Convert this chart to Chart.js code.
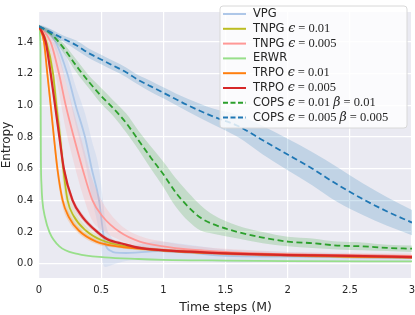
<!DOCTYPE html>
<html>
<head>
<meta charset="utf-8">
<script src="https://cdn.jsdelivr.net/npm/chart.js@4.4.1/dist/chart.umd.min.js"></script>
<style>
  html, body { margin: 0; padding: 0; background: #fff; }
</style>
</head>
<body>
<canvas id="chart" width="415" height="315"></canvas>
<script>
// tick labels
const xTicks = [0, 0.5, 1, 1.5, 2, 2.5, 3];
const yTicks = [0, 0.2, 0.4, 0.6, 0.8, 1.0, 1.2, 1.4];

// legend text (name + math part)
const legendNames = ['VPG', 'TNPG', 'TNPG', 'ERWR', 'TRPO', 'TRPO', 'COPS', 'COPS'];
const legendMath = ['', 'ϵ = 0.01', 'ϵ = 0.005', '', 'ϵ = 0.01', 'ϵ = 0.005',
                    'ϵ = 0.01 β = 0.01', 'ϵ = 0.005 β = 0.005'];

// VPG
const vpgX  = [0, 0.05, 0.134, 0.228, 0.295, 0.37, 0.424, 0.483, 0.515, 0.535, 0.58, 0.615, 0.7, 0.8, 0.95, 1.2, 1.5, 2.0, 2.5, 3.0];
const vpgY  = [1.50, 1.48, 1.40, 1.20, 1.00, 0.80, 0.60, 0.40, 0.20, 0.12, 0.08, 0.07, 0.068, 0.072, 0.08, 0.07, 0.05, 0.045, 0.04, 0.035];
const vpgSd = [0.01, 0.02, 0.05, 0.09, 0.12, 0.15, 0.18, 0.2, 0.2, 0.14, 0.09, 0.07, 0.05, 0.05, 0.06, 0.05, 0.04, 0.03, 0.025, 0.02];

// TNPG eps 0.01
const tnpg1X  = [0, 0.06, 0.113, 0.14, 0.17, 0.195, 0.23, 0.28, 0.376, 0.5, 0.7, 1.0, 1.5, 2.0, 2.5, 3.0];
const tnpg1Y  = [1.50, 1.40, 1.20, 1.00, 0.80, 0.60, 0.40, 0.30, 0.21, 0.15, 0.11, 0.085, 0.065, 0.055, 0.045, 0.04];
const tnpg1Sd = [0.01, 0.04, 0.07, 0.09, 0.1, 0.1, 0.08, 0.05, 0.03, 0.02, 0.015, 0.01, 0.01, 0.01, 0.01, 0.01];

// TNPG eps 0.005
const tnpg2X  = [0, 0.094, 0.161, 0.215, 0.28, 0.35, 0.43, 0.51, 0.65, 0.81, 1.0, 1.2, 1.4, 1.6, 2.0, 2.5, 3.0];
const tnpg2Y  = [1.50, 1.40, 1.20, 1.00, 0.80, 0.60, 0.40, 0.30, 0.20, 0.14, 0.11, 0.09, 0.08, 0.07, 0.06, 0.055, 0.05];
const tnpg2Sd = [0.01, 0.06, 0.12, 0.15, 0.16, 0.16, 0.13, 0.09, 0.05, 0.035, 0.03, 0.025, 0.02, 0.02, 0.015, 0.015, 0.015];

// ERWR
const erwrX  = [0, 0.012, 0.015, 0.02, 0.027, 0.048, 0.084, 0.164, 0.31, 0.53, 0.8, 1.0, 1.5, 2.0, 3.0];
const erwrY  = [1.50, 1.35, 0.70, 0.50, 0.40, 0.295, 0.20, 0.11, 0.062, 0.04, 0.03, 0.025, 0.02, 0.017, 0.015];
const erwrSd = [0, 0, 0, 0, 0, 0, 0, 0, 0, 0, 0, 0, 0, 0, 0];

// TRPO eps 0.01
const trpo1X  = [0, 0.04, 0.067, 0.094, 0.12, 0.148, 0.19, 0.24, 0.32, 0.46, 0.63, 1.0, 1.5, 2.0, 2.5, 3.0];
const trpo1Y  = [1.50, 1.40, 1.20, 1.00, 0.80, 0.60, 0.40, 0.295, 0.21, 0.14, 0.11, 0.085, 0.065, 0.055, 0.045, 0.04];
const trpo1Sd = [0.01, 0.03, 0.05, 0.05, 0.05, 0.05, 0.04, 0.03, 0.02, 0.015, 0.01, 0.01, 0.01, 0.01, 0.01, 0.01];

// TRPO eps 0.005
const trpo2X  = [0, 0.054, 0.094, 0.129, 0.164, 0.20, 0.27, 0.35, 0.47, 0.55, 0.68, 0.81, 1.21, 1.62, 2.0, 2.5, 3.0];
const trpo2Y  = [1.50, 1.40, 1.20, 1.00, 0.80, 0.60, 0.40, 0.295, 0.20, 0.155, 0.125, 0.10, 0.076, 0.062, 0.055, 0.05, 0.042];
const trpo2Sd = [0.01, 0.02, 0.03, 0.03, 0.03, 0.03, 0.025, 0.02, 0.015, 0.012, 0.01, 0.01, 0.01, 0.01, 0.01, 0.01, 0.01];

// COPS eps 0.01 beta 0.01
const cops1X  = [0, 0.1, 0.2, 0.3, 0.4, 0.5, 0.6, 0.7, 0.8, 0.9, 1.0, 1.1, 1.2, 1.3, 1.4, 1.6, 1.8, 2.0, 2.2, 2.4, 2.6, 2.8, 3.0];
const cops1Y  = [1.50, 1.45, 1.36, 1.25, 1.15, 1.06, 0.98, 0.89, 0.78, 0.67, 0.565, 0.45, 0.36, 0.29, 0.25, 0.20, 0.165, 0.14, 0.13, 0.115, 0.11, 0.10, 0.095];
const cops1Sd = [0.01, 0.02, 0.03, 0.04, 0.04, 0.05, 0.05, 0.06, 0.06, 0.07, 0.08, 0.09, 0.09, 0.08, 0.06, 0.04, 0.035, 0.03, 0.03, 0.025, 0.025, 0.02, 0.02];

// COPS eps 0.005 beta 0.005
const cops2X  = [0, 0.1, 0.2, 0.3, 0.4, 0.5, 0.6, 0.7, 0.8, 0.9, 1.0, 1.2, 1.4, 1.6, 1.8, 2.0, 2.2, 2.4, 2.6, 2.8, 3.0];
const cops2Y  = [1.50, 1.46, 1.42, 1.38, 1.33, 1.29, 1.25, 1.21, 1.16, 1.12, 1.08, 1.00, 0.93, 0.87, 0.78, 0.69, 0.60, 0.50, 0.41, 0.33, 0.26];
const cops2Sd = [0.01, 0.02, 0.02, 0.03, 0.03, 0.03, 0.03, 0.03, 0.03, 0.035, 0.035, 0.04, 0.05, 0.07, 0.09, 0.10, 0.105, 0.11, 0.10, 0.09, 0.08];

const series = [
  { x: vpgX,   y: vpgY,   sd: vpgSd,   color: '#aec7e8', band: 'rgba(174,199,232,0.28)', dash: [] },
  { x: tnpg1X, y: tnpg1Y, sd: tnpg1Sd, color: '#bcbd22', band: 'rgba(188,189,34,0.16)',  dash: [] },
  { x: tnpg2X, y: tnpg2Y, sd: tnpg2Sd, color: '#ff9896', band: 'rgba(255,152,150,0.2)',  dash: [] },
  { x: erwrX,  y: erwrY,  sd: erwrSd,  color: '#98df8a', band: 'rgba(152,223,138,0.2)',  dash: [] },
  { x: trpo1X, y: trpo1Y, sd: trpo1Sd, color: '#ff7f0e', band: 'rgba(255,127,14,0.2)',   dash: [] },
  { x: trpo2X, y: trpo2Y, sd: trpo2Sd, color: '#d62728', band: 'rgba(214,39,40,0.2)',    dash: [] },
  { x: cops1X, y: cops1Y, sd: cops1Sd, color: '#2ca02c', band: 'rgba(44,160,44,0.2)',    dash: [6, 3.5] },
  { x: cops2X, y: cops2Y, sd: cops2Sd, color: '#1f77b4', band: 'rgba(31,119,180,0.2)',   dash: [6, 3.5] }
];

const datasets = [];
series.forEach((s, i) => {
  const ord = 100 - i * 10;
  datasets.push({
    data: s.x.map((v, k) => ({ x: v, y: s.y[k] - s.sd[k] })),
    borderWidth: 0, pointRadius: 0, fill: false, order: ord + 5,
    cubicInterpolationMode: 'monotone'
  });
  datasets.push({
    data: s.x.map((v, k) => ({ x: v, y: s.y[k] + s.sd[k] })),
    borderWidth: 0, pointRadius: 0, fill: '-1', backgroundColor: s.band, order: ord + 5,
    cubicInterpolationMode: 'monotone'
  });
  datasets.push({
    data: s.x.map((v, k) => ({ x: v, y: s.y[k] })),
    borderColor: s.color, borderWidth: i === 5 ? 2.2 : 1.8, borderDash: s.dash,
    pointRadius: 0, fill: false, order: ord,
    cubicInterpolationMode: 'monotone'
  });
});

const bgPlugin = {
  id: 'bg',
  beforeDraw(chart) {
    const { ctx, chartArea: a } = chart;
    ctx.save();
    ctx.fillStyle = '#eaeaf2';
    ctx.fillRect(a.left, a.top, a.right - a.left, a.bottom - a.top);
    ctx.restore();
  }
};

const legendPlugin = {
  id: 'boxLegend',
  afterDraw(chart) {
    const ctx = chart.ctx;
    const bx = 220, by = 6, bw = 187, bh = 122, rowH = 14.8;
    ctx.save();
    ctx.beginPath();
    ctx.roundRect(bx, by, bw, bh, 3);
    ctx.fillStyle = 'rgba(255,255,255,0.8)';
    ctx.fill();
    ctx.strokeStyle = '#d8d8d8';
    ctx.lineWidth = 1;
    ctx.stroke();
    ctx.textBaseline = 'middle';
    series.forEach((s, i) => {
      const cy = by + 8 + i * rowH;
      ctx.beginPath();
      ctx.setLineDash(s.dash.length ? [5, 2.5] : []);
      ctx.strokeStyle = s.color;
      ctx.lineWidth = 2;
      ctx.moveTo(223, cy);
      ctx.lineTo(246, cy);
      ctx.stroke();
      ctx.setLineDash([]);
      ctx.fillStyle = '#262626';
      ctx.font = '11.5px "DejaVu Sans"';
      let tx = 253;
      ctx.fillText(legendNames[i], tx, cy);
      tx += ctx.measureText(legendNames[i] + ' ').width;
      for (const ch of legendMath[i]) {
        ctx.font = /[ϵβ]/.test(ch) ? 'italic 12.5px "DejaVu Serif"' : '12.5px "Liberation Serif"';
        ctx.fillText(ch, tx, cy);
        tx += ctx.measureText(ch).width;
      }
    });
    ctx.restore();
  }
};

new Chart(document.getElementById('chart'), {
  type: 'line',
  data: { datasets: datasets },
  options: {
    responsive: false,
    animation: false,
    layout: { padding: { top: 1, right: 3, left: 0, bottom: 0 } },
    plugins: { legend: { display: false }, tooltip: { enabled: false } },
    scales: {
      x: {
        type: 'linear', min: 0, max: 3,
        afterBuildTicks: s => { s.ticks = xTicks.map(v => ({ value: v })); },
        afterFit: s => { s.height = 37; s.paddingLeft = 0; s.paddingRight = 0; },
        grid: { color: '#ffffff', lineWidth: 1.2, drawTicks: false },
        border: { display: false },
        ticks: { padding: 6, color: '#262626', font: { family: 'DejaVu Sans', size: 10 }, callback: v => String(v) },
        title: { display: true, text: 'Time steps (M)', color: '#262626', font: { family: 'DejaVu Sans', size: 12.5 }, padding: { top: 0, bottom: 0 } }
      },
      y: {
        min: -0.09, max: 1.59,
        afterBuildTicks: s => { s.ticks = yTicks.map(v => ({ value: v })); },
        afterFit: s => { s.width = 39; },
        grid: { color: '#ffffff', lineWidth: 1.2, drawTicks: false },
        border: { display: false },
        ticks: { padding: 6, color: '#262626', font: { family: 'DejaVu Sans', size: 10 }, callback: v => v.toFixed(1) },
        title: { display: true, text: 'Entropy', color: '#262626', font: { family: 'DejaVu Sans', size: 12 }, padding: { top: 0, bottom: 0 } }
      }
    }
  },
  plugins: [bgPlugin, legendPlugin]
});
</script>
</body>
</html>
